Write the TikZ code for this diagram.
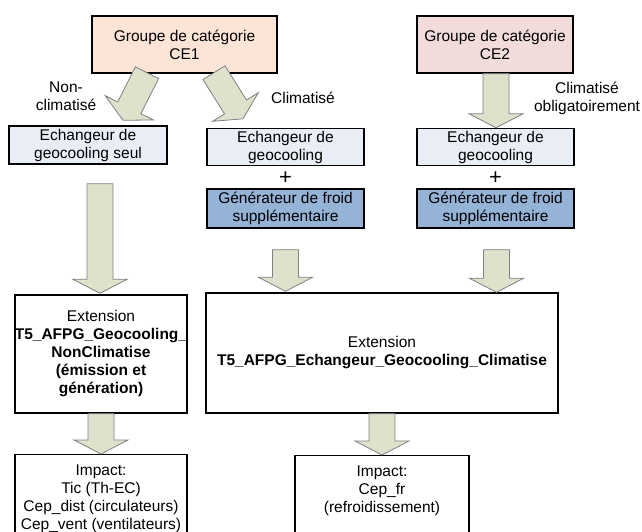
\documentclass[tikz,border=0pt]{standalone}
\usepackage{fontspec}
\setmainfont{Liberation Sans}
\usetikzlibrary{calc}

\definecolor{pecheCE}{RGB}{252,228,214}
\definecolor{roseCE}{RGB}{242,220,219}
\definecolor{bleuclair}{RGB}{233,238,246}
\definecolor{bleufonce}{RGB}{149,179,215}
\definecolor{olivepale}{RGB}{221,226,204}

\newcommand{\flechebloc}[2]{%
  \coordinate (fa) at #1; \coordinate (fb) at #2;
  \coordinate (fh) at ($(fb)!14pt!(fa)$);
  \filldraw[fleche] ($(fa)!13pt!90:(fb)$) -- ($(fh)!13pt!90:(fb)$) -- ($(fh)!27pt!90:(fb)$)
    -- (fb) -- ($(fh)!27pt!-90:(fb)$) -- ($(fh)!13pt!-90:(fb)$) -- ($(fa)!13pt!-90:(fb)$) -- cycle;}

\begin{document}
\begin{tikzpicture}[x=1pt, y=-1pt, font=\fontsize{15.5}{18}\selectfont,
    boite/.style={draw=black, line width=1.4pt, align=center, inner sep=0pt},
    fleche/.style={fill=olivepale, draw=gray, line width=0.8pt, line join=miter},
    note/.style={align=center, inner sep=0pt}]
  \useasboundingbox (0,0) rectangle (642,532);
  % categories
  \node[boite, fill=pecheCE, minimum width=185pt, minimum height=57pt] (ce1) at (184.5,44.5) {Groupe de catégorie\\CE1};
  \node[boite, fill=roseCE, minimum width=156pt, minimum height=57pt] (ce2) at (495,44.5) {Groupe de catégorie\\CE2};
  % equipements
  \node[boite, fill=bleuclair, minimum width=158pt, minimum height=38pt] (echseul) at (88,145) {Echangeur de\\geocooling seul};
  \foreach \n/\px in {mid/285.5, droite/495.5}
    {\node[boite, fill=bleuclair, minimum width=157pt, minimum height=37pt] (ech\n) at (\px,147) {Echangeur de\\geocooling};
     \node[note, font=\fontsize{22}{24}\selectfont] (plus\n) at (\px,178) {+};
     \node[boite, fill=bleufonce, minimum width=157pt, minimum height=39pt] (gen\n) at (\px,208.5) {Générateur de froid\\supplémentaire};}
  % extensions
  \node[boite, minimum width=172pt, minimum height=118pt] (extgauche) at (101,354)
    {Extension\\\textbf{T5\_AFPG\_Geocooling\_}\\\textbf{NonClimatise}\\\textbf{(émission et}\\\textbf{génération)}};
  \node[boite, minimum width=352pt, minimum height=120pt] (extdroite) at (382,353)
    {Extension\\\textbf{T5\_AFPG\_Echangeur\_Geocooling\_Climatise}};
  % impacts
  \node[boite, anchor=north, inner ysep=10pt, minimum width=172pt] (impgauche) at (101,454)
    {Impact:\\Tic (Th-EC)\\Cep\_dist (circulateurs)\\Cep\_vent (ventilateurs)\\[30pt]\mbox{}};
  \node[boite, anchor=north, inner ysep=10pt, minimum width=174pt] (impdroite) at (382,455)
    {Impact:\\Cep\_fr\\(refroidissement)\\[30pt]\mbox{}};
  % etiquettes
  \node[note] (nonclim) at (66,96) {Non-\\climatisé};
  \node[note] (clim) at (303,98) {Climatisé};
  \node[note] (climoblig) at (587,98) {Climatisé\\obligatoirement};
  % fleches
  \flechebloc{($(ce1.south)+(-37.5,-1)$)}{($(echseul.north)+(35,-5)$)}
  \flechebloc{($(ce1.south)+(29.5,-1)$)}{($(echmid.north)+(-42.5,-9)$)}
  \flechebloc{($(ce2.south)+(1,0)$)}{($(echdroite.north)+(0.5,0)$)}
  \flechebloc{($(extgauche.north |- echseul.south)+(-1,19)$)}{($(extgauche.north)+(-1,-1)$)}
  \flechebloc{($(genmid.south)+(0,21)$)}{($(genmid.south |- extdroite.north)+(0,-1)$)}
  \flechebloc{($(gendroite.south)+(1,21)$)}{($(gendroite.south |- extdroite.north)+(1,0)$)}
  \flechebloc{(extgauche.south)}{(impgauche.north)}
  \flechebloc{(extdroite.south)}{(impdroite.north)}
\end{tikzpicture}
\end{document}
